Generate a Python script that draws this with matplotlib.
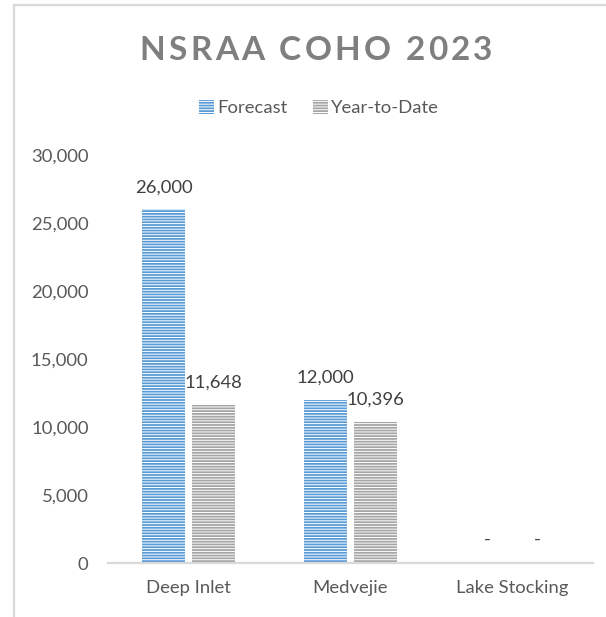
import matplotlib
matplotlib.use("Agg")
import matplotlib.pyplot as plt
from matplotlib.patches import Patch
from matplotlib.lines import Line2D
import numpy as np

categories = ["Deep Inlet", "Medvejie", "Lake Stocking"]
forecast = [26000, 12000, 0]
year_to_date = [11648, 10396, 0]
series_names = ["Forecast", "Year-to-Date"]
yticks = [0, 5000, 10000, 15000, 20000, 25000, 30000]
title = "NSRAA COHO 2023"

BLUE = "#5b9bd5"
GRAY = "#a5a5a5"
TXT = "#595959"
FONT = "Lato"

plt.rcParams["font.family"] = [FONT, "DejaVu Sans"]
plt.rcParams["hatch.linewidth"] = 0.7

W, H = 606, 617
fig = plt.figure(figsize=(W / 100, H / 100), dpi=100)

# outer chart border (left & top visible)
fig.add_artist(Line2D([14 / W, 14 / W], [0, 1 - 5 / H], transform=fig.transFigure,
                      color="#d9d9d9", lw=1.6))
fig.add_artist(Line2D([14 / W, 1], [1 - 5 / H, 1 - 5 / H], transform=fig.transFigure,
                      color="#d9d9d9", lw=1.6))

ax = fig.add_axes([108 / W, (H - 563) / H, (593 - 108) / W, (563 - 155) / H])
x = np.arange(len(categories))
bw = 0.266
off = 0.155
b1 = ax.bar(x - off, forecast, bw, color=BLUE, edgecolor="white", linewidth=0,
            hatch="------", label=series_names[0])
b2 = ax.bar(x + off, year_to_date, bw, color=GRAY, edgecolor="white", linewidth=0,
            hatch="------", label=series_names[1])

ax.set_xlim(-0.5, len(categories) - 0.5)
ax.set_ylim(0, 30000)
ax.set_yticks(yticks)
ax.set_yticklabels([f"{v:,}" for v in yticks])
ax.set_xticks(x)
ax.set_xticklabels(categories)
for s in ["top", "right", "left"]:
    ax.spines[s].set_visible(False)
ax.spines["bottom"].set_color("#d9d9d9")
ax.spines["bottom"].set_linewidth(1.6)
ax.tick_params(axis="both", length=0, labelsize=13.3, colors=TXT)
ax.tick_params(axis="y", pad=14)
ax.tick_params(axis="x", pad=12)

def fmt(v):
    return "-" if v == 0 else f"{v:,}"

for bars, vals in [(b1, forecast), (b2, year_to_date)]:
    for r, v in zip(bars, vals):
        ax.annotate(fmt(v), (r.get_x() + r.get_width() / 2, v),
                    xytext=(0, 10 if v else 11), textcoords="offset points",
                    ha="center", va="bottom", fontsize=13.3, color="#404040")

# legend
handles = [Patch(facecolor=BLUE, edgecolor="white", hatch="------", linewidth=0),
           Patch(facecolor=GRAY, edgecolor="white", hatch="------", linewidth=0)]
fig.legend(handles, series_names, loc="center", bbox_to_anchor=(319 / W, 1 - 108 / H),
           ncol=2, frameon=False, fontsize=13.3, labelcolor=TXT,
           handlelength=0.8, handleheight=0.8, handletextpad=0.15, columnspacing=1.4)

# letter-spaced title
fig.canvas.draw()
renderer = fig.canvas.get_renderer()
tprops = dict(fontsize=24, fontweight="bold", color="#7f7f7f")

def width_of(s):
    t = fig.text(0, 0, "x" + s + "x", **tprops)
    w = t.get_window_extent(renderer).width
    t.remove()
    return w

base = width_of("")
spacing = 3.3
total = width_of(title) - base + spacing * (len(title) - 1)
x0 = 316 - total / 2
yc = 1 - 50 / H
for i, ch in enumerate(title):
    if ch == " ":
        continue
    px = x0 + (width_of(title[:i]) - base) + spacing * i
    fig.text(px / W, yc, ch, ha="left", va="center", **tprops)

fig.savefig("out.png", dpi=100)
